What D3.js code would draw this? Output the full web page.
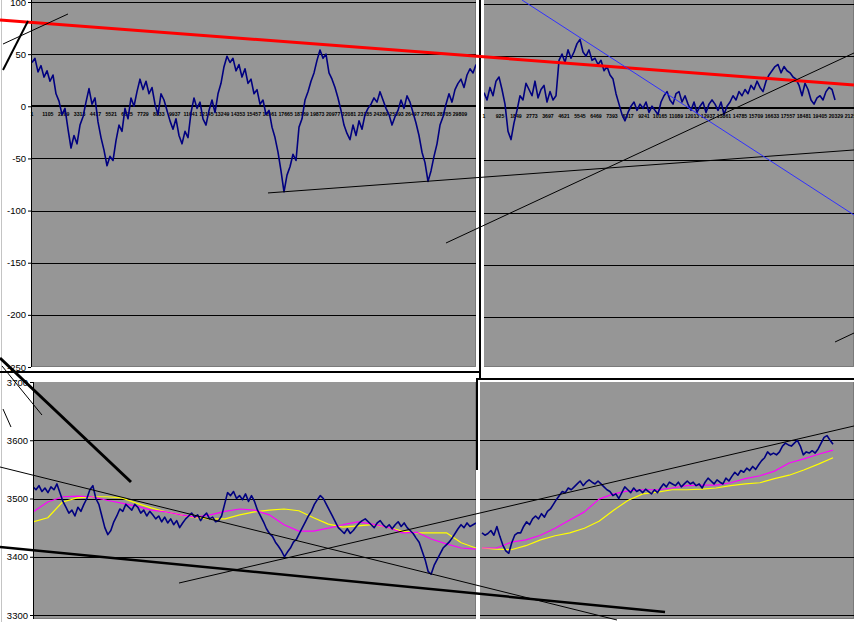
<!DOCTYPE html>
<html><head><meta charset="utf-8">
<script src="https://cdn.jsdelivr.net/npm/d3@7/dist/d3.min.js"></script>
<style>html,body{margin:0;padding:0;background:#fff;}svg{display:block;}</style>
</head><body>
<svg id="chart" width="854" height="622"></svg>
<script>
// ---------------- DATA ----------------
const oscTicks = [100, 50, 0, -50, -100, -150, -200, -250];
const priceTicks = [3700, 3600, 3500, 3400, 3300];
const leftBarLabels = [1,1105,2209,3313,4417,5521,6625,7729,8833,9937,11041,12145,13249,14353,15457,16561,17665,18769,19873,20977,22081,23185,24289,25393,26497,27601,28705,29809];
const rightBarLabels = [1,925,1849,2773,3697,4621,5545,6469,7393,8317,9241,10165,11089,12013,12937,13861,14785,15709,16633,17557,18481,19405,20329,21253];
const leftBarCount = 30926, leftLastBar = 30926;
const rightBarCount = 21371, rightLastBar = 20275;

// oscillator, left window
const oscLeft = [42,46,33,39,28,34,24,30,12,5,
 -8,-2,-22,-40,-28,-36,-18,-10,4,17,
 2,8,-15,-30,-42,-57,-48,-52,-33,-18,
 -24,-2,-12,8,0,14,26,16,24,12,
 18,2,-8,12,6,-4,-14,-22,-12,-28,
 -36,-24,-30,-6,8,-2,4,-12,-18,-4,
 6,-6,12,22,38,48,42,46,34,40,
 28,36,22,26,12,16,2,6,-8,-4,
 -20,-30,-44,-62,-82,-66,-58,-46,-52,-20,
 -12,6,14,24,32,44,54,46,50,32,
 26,18,8,-4,-18,-26,-32,-18,-28,-14,
 -22,-8,-2,2,8,4,14,6,-2,-8,
 -18,-10,-4,6,-2,10,4,-6,-16,-28,
 -44,-54,-72,-62,-48,-36,-18,-10,2,12,
 4,16,22,26,18,30,36,32,40];
// oscillator, right window
const oscRight = [15,8,20,12,26,30,18,4,-22,-30,
 -14,-2,12,8,24,18,12,26,10,18,
 22,6,16,8,12,46,52,44,56,48,
 54,62,66,54,50,56,46,48,42,46,
 36,40,32,28,14,4,-6,-12,-4,2,
 6,-2,4,0,6,-4,2,-2,-6,6,
 12,16,8,4,14,16,6,12,4,-2,
 6,-4,2,6,-4,4,8,4,-2,6,
 -6,2,6,12,8,16,12,18,14,22,
 18,26,20,16,26,32,36,40,42,34,
 40,36,34,30,28,22,12,24,18,8,
 4,10,12,8,16,20,18,8];
// price, left window
const priceLeft = [3520,3515,3522,3512,3518,3510,3520,3515,3525,3510,
 3495,3485,3475,3480,3470,3485,3478,3490,3500,3515,
 3522,3500,3490,3470,3450,3438,3445,3460,3470,3482,
 3478,3490,3485,3480,3490,3485,3475,3480,3470,3478,
 3472,3465,3470,3460,3468,3458,3465,3455,3462,3450,
 3458,3465,3470,3475,3468,3472,3462,3470,3475,3465,
 3468,3460,3462,3470,3490,3510,3505,3512,3500,3505,
 3498,3508,3495,3505,3495,3480,3470,3460,3448,3440,
 3435,3425,3418,3410,3400,3408,3415,3425,3430,3440,
 3450,3460,3470,3478,3490,3498,3505,3500,3490,3480,
 3470,3460,3450,3445,3440,3448,3440,3445,3452,3458,
 3462,3465,3460,3455,3450,3458,3462,3455,3450,3455,
 3448,3455,3460,3452,3458,3450,3445,3440,3432,3425,
 3410,3395,3375,3370,3385,3395,3405,3415,3420,3425,
 3432,3440,3448,3455,3450,3458,3452,3455,3458];
const maFastLeft = [3477,3494,3503,3504,3503,3497,3492,3487,3480,3477,3472,3468,3472,3478,3482,3480,3472,3455,3444,3444,3449,3455,3460,3456,3451,3441,3442,3430,3422,3415,3413];
const maSlowLeft = [3460,3467,3494,3501,3503,3503,3501,3492,3484,3477,3472,3467,3465,3465,3472,3477,3480,3482,3479,3467,3456,3451,3453,3455,3451,3444,3441,3441,3441,3424,3415];
// price, right window
const priceRight = [3441,3437,3440,3445,3437,3452,3435,3420,3410,3406,
 3424,3437,3441,3441,3452,3460,3455,3465,3470,3465,
 3474,3468,3478,3482,3490,3498,3505,3512,3510,3518,
 3515,3520,3525,3530,3522,3528,3532,3528,3525,3530,
 3525,3520,3515,3512,3505,3508,3500,3510,3520,3515,
 3510,3518,3512,3515,3510,3516,3512,3508,3515,3510,
 3518,3525,3520,3528,3525,3522,3528,3520,3525,3530,
 3525,3528,3522,3525,3518,3528,3535,3530,3525,3532,
 3528,3525,3535,3530,3538,3545,3540,3548,3545,3552,
 3548,3555,3550,3558,3565,3570,3580,3575,3578,3575,
 3580,3590,3595,3592,3590,3595,3600,3590,3575,3580,
 3578,3582,3578,3585,3595,3605,3608,3600,3593];
const maFastRight = [3415,3415,3425,3429,3437,3449,3463,3477,3499,3508,3513,3515,3515,3518,3522,3523,3523,3527,3534,3539,3547,3561,3568,3576,3583];
const maSlowRight = [3415,3413,3412,3419,3429,3436,3441,3449,3461,3480,3497,3508,3511,3515,3515,3516,3518,3522,3525,3527,3534,3540,3549,3559,3570];

// hand-drawn trend lines, as [bar, value] end points in each window's units
const oscTrendLines = [
  [[-2228, 82.7], [57253, 20.4]],
  [[-2019, 59.7], [2508, 88.5]],
  [[-2019, 34.8], [-278, 81.8]],
  [[16438, -83.1], [57253, -41.9]],
  [[28836, -131.1], [57253, 51.1]]
];
const oscRightTrendLines = [
  [[2196, 103.8], [21372, -102.3]],
  [[20275, -224.1], [21372, -215.5]]
];
const priceTrendLines = [
  [[-2303, 3741.2], [6842, 3528.3]],
  [[-2163, 3727.5], [629, 3643.3]],
  [[-2093, 3653.6], [-1535, 3622.7]],
  [[-2303, 3554.1], [40770, 3291.4]],
  [[-2303, 3416.7], [44121, 3305.2]],
  [[10193, 3354.9], [57315, 3624.5]]
];

// ---------------- STYLE ----------------
const FONT = "'Liberation Sans', Arial, sans-serif";
const GRAY = '#969696';
const oscTrendStyle = [['#ff0000', 3], ['#000', 1], ['#000', 2], ['#000', 1], ['#000', 1]];
const oscRightTrendStyle = [['#3030ff', 1], ['#000', 1]];
const priceTrendStyle = [['#000', 3], ['#000', 1], ['#000', 1], ['#000', 1], ['#000', 2.5], ['#000', 1]];

const svg = d3.select('#chart');
svg.append('rect').attr('width', 854).attr('height', 622).attr('fill', '#fff');

// scales
const tlX = d3.scaleLinear().domain([1, leftBarCount]).range([32, 476]);
const tlY = d3.scaleLinear().domain([-250, 100]).range([367, 2]);
const trX = d3.scaleLinear().domain([1, rightBarCount]).range([484, 854]);
const trY = d3.scaleLinear().domain([-250, 100]).range([369, 4]);
const blX = d3.scaleLinear().domain([1, leftBarCount]).range([33, 476]);
const blY = d3.scaleLinear().domain([3300, 3700]).range([615, 382]);
const brX = d3.scaleLinear().domain([1, rightBarCount]).range([482, 852]);
const brY = blY;

const spread = (vals, lastBar) => vals.map((v, i) => [1 + i * (lastBar - 1) / (vals.length - 1), v]);
const crisp = v => Math.round(v) + 0.5;

const defs = svg.append('defs');
function panel(id, x0, y0, x1, y1) {
  defs.append('clipPath').attr('id', id).append('rect')
    .attr('x', x0).attr('y', y0).attr('width', x1 - x0).attr('height', y1 - y0);
  const g = svg.append('g');
  g.append('rect').attr('x', x0).attr('y', y0).attr('width', x1 - x0).attr('height', y1 - y0).attr('fill', GRAY);
  g.append('path').attr('d', `M${x0},${y1 - 0.5}H${x1 - 0.5}V${y0}`).attr('fill', 'none').attr('stroke', '#7a7a7a').attr('stroke-width', 1);
  return g;
}
function grid(g, ys, ticks, x0, x1, zero, skip) {
  ticks.forEach(t => {
    if (skip.includes(t)) return;
    const isZero = t === zero;
    g.append('line').attr('x1', x0).attr('x2', x1)
      .attr('y1', isZero ? Math.round(ys(t)) : crisp(ys(t)))
      .attr('y2', isZero ? Math.round(ys(t)) : crisp(ys(t)))
      .attr('stroke', '#000').attr('stroke-width', isZero ? 2 : 1);
  });
}
function series(g, clip, data, xs, ys, color, w) {
  g.append('path').datum(data).attr('clip-path', `url(#${clip})`)
    .attr('d', d3.line().x(d => xs(d[0])).y(d => ys(d[1])))
    .attr('fill', 'none').attr('stroke', color).attr('stroke-width', w)
    .attr('stroke-linejoin', 'round');
}
function barLabels(g, labels, xs, y) {
  g.selectAll(null).data(labels).enter().append('text')
    .attr('x', d => xs(d)).attr('y', y).attr('text-anchor', 'middle')
    .attr('font-family', FONT).attr('font-size', 5.2).attr('font-weight', 'bold')
    .attr('fill', '#000').text(d => String(d));
}
function yAxis(x, ys, ticks, top, bottom) {
  const g = svg.append('g').attr('transform', `translate(${x},0)`)
    .call(d3.axisLeft(ys).tickValues(ticks).tickSize(3).tickPadding(2).tickFormat(d => String(d)));
  g.select('.domain').remove();
  g.selectAll('.tick line').attr('stroke', '#000');
  g.selectAll('.tick text').attr('font-family', FONT).attr('font-size', 9.5).attr('fill', '#000');
  svg.append('line').attr('x1', x + 0.5).attr('x2', x + 0.5).attr('y1', top).attr('y2', bottom).attr('stroke', '#000');
}

// window border at far left
svg.append('line').attr('x1', 1.5).attr('x2', 1.5).attr('y1', 0).attr('y2', 622).attr('stroke', '#c4c4c4');

// ---- top-left: oscillator ----
const gTL = panel('clipTL', 31, 0, 476, 367);
grid(gTL, tlY, oscTicks, 31, 476, 0, [-250]);
barLabels(gTL, leftBarLabels, tlX, 115.5);
series(gTL, 'clipTL', spread(oscLeft, leftLastBar), tlX, tlY, '#000080', 1.6);
yAxis(31, tlY, oscTicks, 0, 367);

// ---- top-right: oscillator ----
const gTR = panel('clipTR', 484, 0, 854, 367);
grid(gTR, trY, oscTicks, 484, 854, 0, [-250]);
barLabels(gTR, rightBarLabels, trX, 117.5);
series(gTR, 'clipTR', spread(oscRight, rightLastBar), trX, trY, '#000080', 1.6);

// ---- bottom-left: price ----
const gBL = panel('clipBL', 33, 382, 476, 619);
grid(gBL, blY, priceTicks, 33, 476, null, [3700]);
series(gBL, 'clipBL', spread(maSlowLeft, leftLastBar), blX, blY, '#ffff00', 1.2);
series(gBL, 'clipBL', spread(maFastLeft, leftLastBar), blX, blY, '#ff00ff', 1.2);
series(gBL, 'clipBL', spread(priceLeft, leftLastBar), blX, blY, '#000080', 1.6);
yAxis(33, blY, priceTicks, 382, 619);

// ---- bottom-right: price ----
const gBR = panel('clipBR', 480, 382, 854, 619);
grid(gBR, brY, priceTicks, 480, 854, null, [3700]);
series(gBR, 'clipBR', spread(maSlowRight, rightLastBar), brX, brY, '#ffff00', 1.2);
series(gBR, 'clipBR', spread(maFastRight, rightLastBar), brX, brY, '#ff00ff', 1.2);
series(gBR, 'clipBR', spread(priceRight, rightLastBar), brX, brY, '#000080', 1.6);

// ---- window separators ----
const sep = svg.append('g').attr('stroke', '#000').attr('stroke-width', 2).attr('fill', 'none');
sep.append('path').attr('d', 'M0,372H481');
sep.append('path').attr('d', 'M480,0V379');
sep.append('path').attr('d', 'M476,379H854');
sep.append('path').attr('d', 'M477,379V470');

// ---- trend lines (drawn on top) ----
function trends(lines, styles, xs, ys) {
  lines.forEach((ln, i) => {
    svg.append('line')
      .attr('x1', xs(ln[0][0])).attr('y1', ys(ln[0][1]))
      .attr('x2', xs(ln[1][0])).attr('y2', ys(ln[1][1]))
      .attr('stroke', styles[i][0]).attr('stroke-width', styles[i][1]);
  });
}
trends(oscTrendLines, oscTrendStyle, tlX, tlY);
trends(oscRightTrendLines, oscRightTrendStyle, trX, trY);
trends(priceTrendLines, priceTrendStyle, blX, blY);
</script>
</body></html>
